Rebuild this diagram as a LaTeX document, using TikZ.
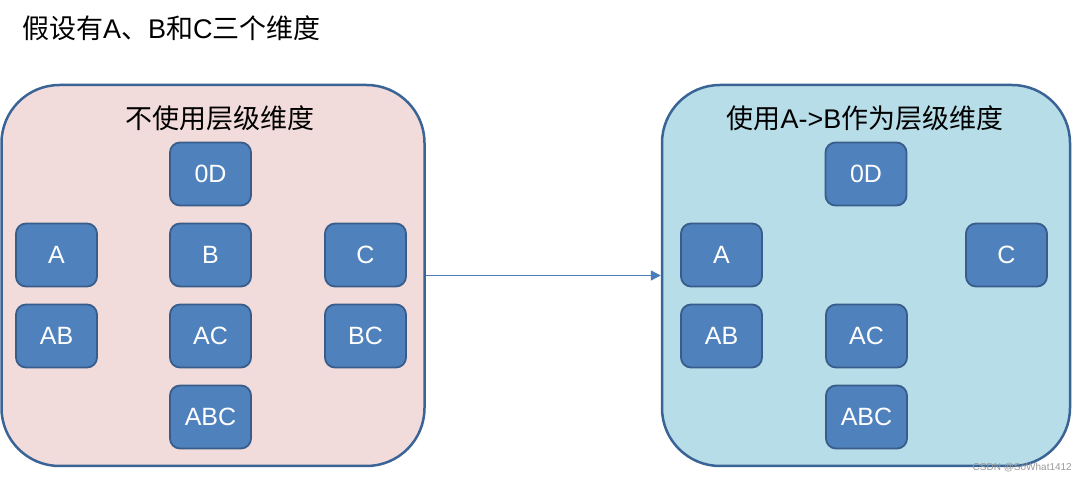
\documentclass[tikz,border=0pt]{standalone}
\usepackage{fontspec}
\setmainfont{Liberation Sans}
\newfontfamily\cjk{Noto Sans CJK SC}
\usetikzlibrary{arrows.meta}
\definecolor{panelborder}{HTML}{3B6496}
\definecolor{pinkfill}{HTML}{F2DCDB}
\definecolor{cyanfill}{HTML}{B7DDE8}
\definecolor{boxfill}{HTML}{4F81BD}
\definecolor{boxborder}{HTML}{385D8A}
\definecolor{arrowcol}{HTML}{4A7EBB}
\begin{document}
\begin{tikzpicture}[x=1pt,y=-1pt,
  panel/.style={draw=panelborder,line width=2.5pt,rounded corners=58pt,inner sep=0pt,minimum height=381pt},
  dimbox/.style={draw=boxborder,fill=boxfill,line width=1.8pt,rounded corners=10pt,
    minimum width=81pt,minimum height=63pt,inner sep=0pt,text=white,font=\fontsize{25}{27}\selectfont},
  paneltitle/.style={inner sep=0pt,font=\fontsize{27}{30}\selectfont},
  link/.style={draw=arrowcol,line width=1.5pt,-{Triangle[length=10pt,width=10pt]}}]
\useasboundingbox (0,0) rectangle (1080,478);
\fill[white] (0,0) rectangle (1080,478);

\node[anchor=west,inner sep=0pt,font=\fontsize{27}{30}\selectfont] (title) at (22,28)
  {{\cjk 假设有}A{\cjk 、}B{\cjk 和}C{\cjk 三个维度}};

\node[panel,fill=pinkfill,minimum width=423pt] (leftpanel) at (213,275.5) {};
\node[panel,fill=cyanfill,minimum width=408pt] (rightpanel) at (866,275.5) {};

\node[paneltitle] (lefttitle) at (220,118) {\cjk 不使用层级维度};
\node[paneltitle] (righttitle) at (865,118) {{\cjk 使用}A->B{\cjk 作为层级维度}};

\node[dimbox] (l0d) at (210.5,174) {0D};
\node[dimbox] (la) at (56.5,255) {A};
\node[dimbox] (lb) at (210.5,255) {B};
\node[dimbox] (lc) at (365.5,255) {C};
\node[dimbox] (lab) at (56.5,336) {AB};
\node[dimbox] (lac) at (210.5,336) {AC};
\node[dimbox] (lbc) at (365.5,336) {BC};
\node[dimbox] (labc) at (210.5,417) {ABC};

\node[dimbox] (r0d) at (866,174) {0D};
\node[dimbox] (ra) at (721.5,255) {A};
\node[dimbox] (rc) at (1006.5,255) {C};
\node[dimbox] (rab) at (721.5,336) {AB};
\node[dimbox] (rac) at (866.5,336) {AC};
\node[dimbox] (rabc) at (866.5,417) {ABC};

\draw[link] (leftpanel.east) -- (rightpanel.west);

\node[anchor=east,inner sep=0pt,text=black!40,font=\fontsize{10}{12}\selectfont] (mark) at (1072,468) {CSDN @SoWhat1412};
\end{tikzpicture}
\end{document}
